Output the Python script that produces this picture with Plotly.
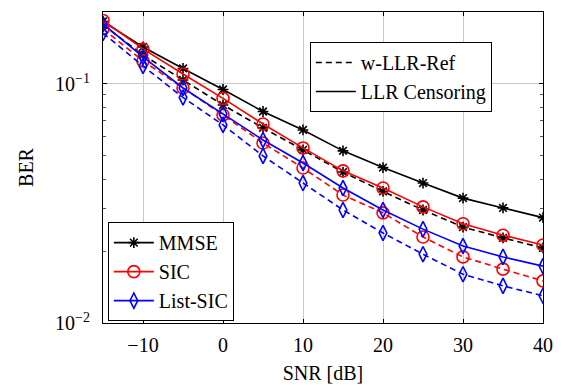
import plotly.graph_objects as go

snr = [-15, -10, -5, 0, 5, 10, 15, 20, 25, 30, 35, 40]

mmse_cens = [0.1826, 0.1428, 0.1161, 0.0948, 0.0767, 0.0642, 0.0525, 0.0447, 0.0385, 0.0333, 0.0303, 0.0276]
mmse_ref = [0.1766, 0.1322, 0.1039, 0.0817, 0.0655, 0.0530, 0.0428, 0.0355, 0.0297, 0.0252, 0.0227, 0.0206]
sic_cens = [0.1844, 0.1401, 0.1101, 0.0870, 0.0680, 0.0540, 0.0433, 0.0367, 0.0306, 0.0260, 0.0233, 0.0212]
sic_ref = [0.1699, 0.1248, 0.0962, 0.0742, 0.0566, 0.0445, 0.0343, 0.0289, 0.0229, 0.0189, 0.0168, 0.0150]
lsic_cens = [0.1782, 0.1297, 0.0962, 0.0749, 0.0583, 0.0467, 0.0367, 0.0297, 0.0247, 0.0210, 0.0189, 0.0173]
lsic_ref = [0.1634, 0.1189, 0.0878, 0.0674, 0.0500, 0.0385, 0.0297, 0.0238, 0.0194, 0.0160, 0.0143, 0.0130]

x_ticks = [-10, 0, 10, 20, 30, 40]
x_ticktext = ["\u221210", "0", "10", "20", "30", "40"]
y_ticks = [0.01, 0.1]
y_ticktext = ["10<sup>\u22122</sup>", "10<sup>\u22121</sup>"]

FONT = "Times New Roman"
FS = 20
LW = 1.6
DASH = "6px,4px"

algos = [
    ("MMSE", "black", dict(symbol="asterisk-open", size=9, line=dict(width=1.6, color="black")), mmse_cens, mmse_ref),
    ("SIC", "red", dict(symbol="circle-open", size=12, line=dict(width=1.6, color="red")), sic_cens, sic_ref),
    ("List-SIC", "blue", dict(symbol="diamond-tall-open", size=11, line=dict(width=1.6, color="blue")), lsic_cens, lsic_ref),
]

fig = go.Figure()
for name, col, mk, cens, ref in algos:
    fig.add_trace(go.Scatter(x=snr, y=ref, mode="lines+markers", line=dict(color=col, width=LW, dash=DASH),
                             marker=mk, showlegend=False))
    fig.add_trace(go.Scatter(x=snr, y=cens, mode="lines+markers", line=dict(color=col, width=LW),
                             marker=mk, showlegend=False))

# legend for line styles
fig.add_trace(go.Scatter(x=[None], y=[None], mode="lines", name="w-LLR-Ref",
                         line=dict(color="black", width=LW, dash=DASH), legend="legend"))
fig.add_trace(go.Scatter(x=[None], y=[None], mode="lines", name="LLR Censoring",
                         line=dict(color="black", width=LW), legend="legend"))
# legend for algorithms
for name, col, mk, cens, ref in algos:
    fig.add_trace(go.Scatter(x=[None], y=[None], mode="lines+markers", name=name,
                             line=dict(color=col, width=LW), marker=mk, legend="legend2"))

fig.update_layout(
    width=554, height=377,
    margin=dict(l=95, r=19, t=4, b=62),
    paper_bgcolor="white", plot_bgcolor="white",
    font=dict(family=FONT, size=FS, color="black"),
    legend=dict(x=0.47, y=0.9035, xanchor="left", yanchor="top", bgcolor="white",
                bordercolor="black", borderwidth=1, font=dict(size=FS, family=FONT),
                itemwidth=40, tracegroupgap=0),
    legend2=dict(x=0.011, y=0.006, xanchor="left", yanchor="bottom", bgcolor="white",
                 bordercolor="black", borderwidth=1, font=dict(size=FS, family=FONT),
                 itemwidth=40, tracegroupgap=0),
)
fig.update_xaxes(
    range=[-15, 40], tickvals=x_ticks, ticktext=x_ticktext,
    showline=True, linecolor="black", linewidth=1, mirror="ticks",
    ticks="inside", ticklen=4, tickcolor="black",
    showgrid=True, gridcolor="#c8c8c8", gridwidth=1, zeroline=False,
    title=dict(text="SNR [dB]", font=dict(size=FS, family=FONT), standoff=10),
    tickfont=dict(size=FS, family=FONT), ticklabelstandoff=4,
)
fig.update_yaxes(
    type="log", range=[-2, -0.69897], tickvals=y_ticks, ticktext=y_ticktext,
    showline=True, linecolor="black", linewidth=1, mirror="ticks",
    ticks="inside", ticklen=4, tickcolor="black",
    showgrid=True, gridcolor="#c8c8c8", gridwidth=1, zeroline=False,
    minor=dict(ticks="inside", ticklen=3, tickcolor="#555555", showgrid=False,
               tickvals=[0.02, 0.03, 0.04, 0.05, 0.06, 0.07, 0.08, 0.09, 0.2]),
    title=dict(text="BER", font=dict(size=FS, family=FONT), standoff=16),
    tickfont=dict(size=FS, family=FONT), ticklabelstandoff=8,
)

fig.write_html("out.html")
